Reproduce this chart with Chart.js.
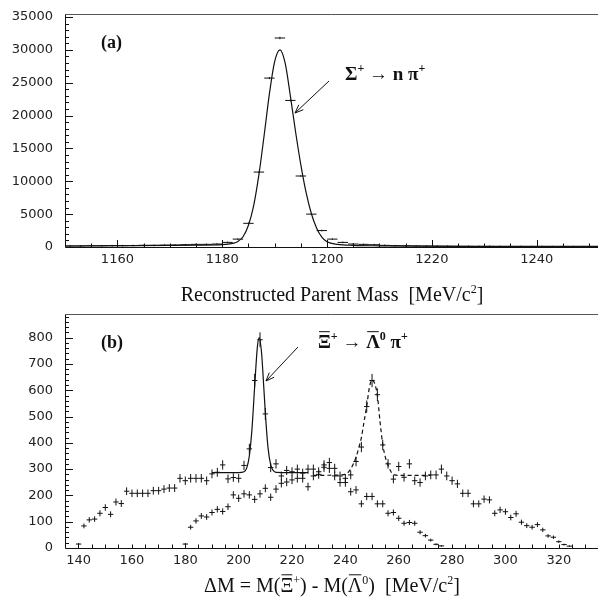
<!DOCTYPE html>
<html>
<head>
<meta charset="utf-8">
<script src="https://cdn.jsdelivr.net/npm/chart.js@4.4.0/dist/chart.umd.min.js"></script>
<style>
html, body { margin: 0; padding: 0; background: #fff; }
#wrapA { position: absolute; left: 0; top: 0; width: 598px; height: 305px; }
#wrapB { position: absolute; left: 0; top: 305px; width: 598px; height: 302px; }
</style>
</head>
<body>
<div id="wrapA"><canvas id="panelA"></canvas></div>
<div id="wrapB"><canvas id="panelB"></canvas></div>
<script>
// (a) reconstructed parent mass, 2 MeV bins
const massBins = [1151, 1153, 1155, 1157, 1159, 1161, 1163, 1165, 1167, 1169, 1171, 1173, 1175, 1177, 1179,
    1181, 1183, 1185, 1187, 1189, 1191, 1193, 1195, 1197, 1199, 1201, 1203, 1205, 1207, 1209,
    1211, 1213, 1215, 1217, 1219, 1221, 1223, 1225, 1227, 1229, 1231, 1233, 1235, 1237, 1239,
    1241, 1243, 1245, 1247, 1249];
const massCounts = [150, 150, 180, 180, 200, 200, 220, 250, 250, 280, 300, 350, 400, 400, 450,
    700, 1200, 3600, 11400, 25700, 31800, 22300, 10800, 5000, 2500, 1200, 700, 450, 400, 350,
    250, 200, 180, 150, 130, 120, 110, 100, 100, 90, 90, 80, 80, 80, 70,
    70, 60, 60, 60, 50];
// (a) fitted curve
const massFitX = [1150, 1160, 1170, 1175, 1180, 1182, 1183, 1184, 1185, 1186, 1187, 1188, 1189, 1190, 1191,
    1192, 1193, 1194, 1195, 1196, 1197, 1198, 1199, 1200, 1202, 1205, 1210, 1220, 1230, 1251.7];
const massFitY = [150, 200, 250, 280, 350, 550, 850, 1600, 3300, 6300, 11000, 17000, 23300, 28200, 30000,
    28000, 23000, 17500, 12500, 8300, 5100, 2900, 1500, 800, 400, 250, 180, 120, 100, 80];
const massTicksX = [1160, 1180, 1200, 1220, 1240];
const massTicksY = [0, 5000, 10000, 15000, 20000, 25000, 30000, 35000];

// (b) mass difference, first sample (solid fit)
const dmX1 = [140, 142, 144, 146, 148, 150, 152, 154, 156, 158, 160, 162, 164, 166, 168, 170, 172, 174, 176, 178,
    180, 182, 184, 186, 188, 190, 192, 194, 196, 198, 200, 202, 204, 206, 208, 210, 212, 214, 216, 218,
    220, 222, 224, 226, 228, 230, 232, 234, 236, 238, 240, 242, 244, 246, 248, 250, 252, 254, 256, 258,
    260, 262, 264, 266, 268, 270, 272, 274, 276];
const dmY1 = [15, 84, 107, 110, 132, 154, 128, 175, 169, 216, 208, 208, 208, 208, 218, 218, 224, 228, 228, 265,
    256, 265, 265, 265, 256, 282, 288, 316, 263, 268, 265, 314, 377, 637, 792, 510, 306, 320, 274, 295,
    290, 300, 285, 300, 300, 290, 316, 303, 274, 249, 249, 214, 221, 168, 196, 196, 168, 168, 132, 135,
    113, 94, 97, 94, 60, 47, 30, 14, 8];
// (b) second sample (dashed fit)
const dmX2 = [180, 182, 184, 186, 188, 190, 192, 194, 196, 198, 200, 202, 204, 206, 208, 210, 212, 214, 216, 218,
    220, 222, 224, 226, 228, 230, 232, 234, 236, 238, 240, 242, 244, 246, 248, 250, 252, 254, 256, 258,
    260, 262, 264, 266, 268, 270, 272, 274, 276, 278, 280, 282, 284, 286, 288, 290, 292, 294, 296, 298,
    300, 302, 304, 306, 308, 310, 312, 314, 316, 318, 320, 322, 324];
const dmY2 = [15, 79, 103, 122, 118, 135, 147, 139, 157, 202, 189, 206, 202, 185, 206, 227, 193, 224, 246, 251,
    259, 265, 265, 233, 274, 280, 307, 325, 303, 274, 265, 278, 329, 384, 538, 637, 583, 392, 320, 262,
    310, 269, 320, 256, 249, 274, 278, 278, 300, 274, 256, 244, 208, 208, 168, 168, 186, 183, 132, 145,
    138, 116, 130, 98, 85, 79, 89, 69, 46, 41, 24, 13, 7];
const fitX1 = [190, 196, 200, 202, 203, 204, 205, 206, 207, 207.7, 208.5, 209, 210, 211, 212, 213, 214, 220, 226];
const fitY1 = [287, 287, 287, 290, 304, 350, 454, 615, 763, 800, 752, 682, 513, 382, 317, 294, 288, 287, 287];
const fitX2 = [228, 236, 240, 242, 243, 244, 245, 246, 247, 248, 249, 250, 251, 252, 253, 254, 255, 256, 257, 258, 260, 272];
const fitY2 = [276, 277, 280, 300, 320, 345, 380, 420, 480, 540, 610, 640, 625, 580, 480, 395, 345, 315, 292, 280, 276, 276];
const dmTicksX = [140, 160, 180, 200, 220, 240, 260, 280, 300, 320];
const dmTicksY = [0, 100, 200, 300, 400, 500, 600, 700, 800];

const INK = '#111';
const SERIF = '"Liberation Serif", "DejaVu Serif", serif';

function pts(xs, ys) {
    return xs.map((x, i) => ({ x: x, y: ys[i] }));
}

// statistical error bar, in pixels, through the y scale
function errPx(ctx) {
    const s = ctx.chart.scales.y;
    const v = ctx.raw ? ctx.raw.y : 0;
    return Math.max(0.8, Math.abs(s.getPixelForValue(v) - s.getPixelForValue(v + Math.sqrt(v))));
}

function histSets(xs, ys, halfWidth) {
    const data = pts(xs, ys);
    return [
        { data: data, showLine: false, pointStyle: 'line', pointRadius: halfWidth, pointBorderColor: INK, pointBorderWidth: 1 },
        { data: data, showLine: false, pointStyle: 'line', pointRotation: 90, pointRadius: errPx, pointBorderColor: INK, pointBorderWidth: 1 }
    ];
}

function fitSet(xs, ys, dash) {
    return {
        data: pts(xs, ys), showLine: true, pointRadius: 0, borderColor: INK, borderWidth: 1.2,
        borderDash: dash, cubicInterpolationMode: 'monotone'
    };
}

// text with superscripts and overbars
function drawRich(ctx, parts, x, y, size, weight) {
    let cx = x;
    parts.forEach(p => {
        const fs = p.sup ? Math.round(size * 0.62) : size;
        ctx.font = weight + ' ' + fs + 'px ' + SERIF;
        const w = ctx.measureText(p.t).width;
        ctx.fillText(p.t, cx, p.sup ? y - size * 0.42 : y);
        if (p.bar) {
            ctx.beginPath();
            ctx.moveTo(cx + 1, y - size * 0.86);
            ctx.lineTo(cx + w - 1, y - size * 0.86);
            ctx.stroke();
        }
        cx += w;
    });
    return cx - x;
}

function richWidth(ctx, parts, size, weight) {
    let w = 0;
    parts.forEach(p => {
        ctx.font = weight + ' ' + (p.sup ? Math.round(size * 0.62) : size) + 'px ' + SERIF;
        w += ctx.measureText(p.t).width;
    });
    return w;
}

// frame with inward ticks, labels and arrows
const framePlugin = {
    id: 'frame',
    afterDatasetsDraw(chart, args, opts) {
        const ctx = chart.ctx;
        const a = chart.chartArea;
        const x = chart.scales.x;
        const y = chart.scales.y;
        ctx.save();
        ctx.strokeStyle = INK;
        ctx.fillStyle = INK;
        ctx.lineWidth = 1;
        ctx.beginPath();
        ctx.moveTo(a.left + 0.5, a.top);
        ctx.lineTo(a.left + 0.5, a.bottom + 0.5);
        ctx.lineTo(a.right, a.bottom + 0.5);
        ctx.stroke();
        ctx.strokeStyle = '#555';
        ctx.beginPath();
        ctx.moveTo(a.left, a.top + 0.5);
        ctx.lineTo(a.right, a.top + 0.5);
        ctx.stroke();
        ctx.strokeStyle = INK;

        ctx.beginPath();
        for (let i = 1; ; i++) {
            const v = x.min + i * opts.xMinor;
            if (v > x.max) break;
            const px = Math.round(x.getPixelForValue(v)) + 0.5;
            const major = Math.abs(Math.round(v / opts.xMajor) * opts.xMajor - v) < 1e-6;
            ctx.moveTo(px, a.bottom);
            ctx.lineTo(px, a.bottom - (major ? 7 : 3.5));
        }
        for (let i = 1; ; i++) {
            const v = i * opts.yMinor;
            if (v > y.max) break;
            const py = Math.round(y.getPixelForValue(v)) + 0.5;
            const major = Math.abs(Math.round(v / opts.yMajor) * opts.yMajor - v) < 1e-6;
            ctx.moveTo(a.left, py);
            ctx.lineTo(a.left + (major ? 8 : 4), py);
        }
        ctx.stroke();

        ctx.textBaseline = 'alphabetic';
        ctx.textAlign = 'left';
        opts.notes.forEach(n => drawRich(ctx, n.parts, n.x, n.y, n.size, n.weight));

        const t = opts.title;
        const tw = richWidth(ctx, t.parts, t.size, 'normal');
        drawRich(ctx, t.parts, t.cx - tw / 2, t.y, t.size, 'normal');

        opts.arrows.forEach(ar => {
            const ang = Math.atan2(ar.y2 - ar.y1, ar.x2 - ar.x1);
            const hl = 9;
            ctx.beginPath();
            ctx.moveTo(ar.x1, ar.y1);
            ctx.lineTo(ar.x2, ar.y2);
            ctx.moveTo(ar.x2 - hl * Math.cos(ang - 0.38), ar.y2 - hl * Math.sin(ang - 0.38));
            ctx.lineTo(ar.x2, ar.y2);
            ctx.lineTo(ar.x2 - hl * Math.cos(ang + 0.38), ar.y2 - hl * Math.sin(ang + 0.38));
            ctx.stroke();
        });
        ctx.restore();
    }
};

function tickFont() {
    return { family: '"DejaVu Sans", sans-serif', size: 13 };
}

function makeChart(id, cfg) {
    return new Chart(document.getElementById(id).getContext('2d'), {
        type: 'scatter',
        data: { datasets: cfg.datasets },
        options: {
            responsive: true,
            maintainAspectRatio: false,
            animation: false,
            events: [],
            layout: { autoPadding: false, padding: { top: cfg.top, left: 0, right: 0, bottom: 0 } },
            plugins: {
                legend: { display: false },
                tooltip: { enabled: false },
                frame: cfg.frame
            },
            scales: {
                x: {
                    type: 'linear', min: cfg.xMin, max: cfg.xMax,
                    grid: { display: false, drawTicks: false },
                    border: { display: false },
                    afterBuildTicks: s => { s.ticks = cfg.xTicks.map(v => ({ value: v })); },
                    ticks: { autoSkip: false, maxRotation: 0, padding: 5, color: '#222', font: tickFont(),
                        callback: v => String(v) },
                    afterFit: s => { s.height = cfg.xHeight; s.paddingLeft = 0; s.paddingRight = 0; }
                },
                y: {
                    type: 'linear', min: 0, max: cfg.yMax,
                    grid: { display: false, drawTicks: false },
                    border: { display: false },
                    afterBuildTicks: s => { s.ticks = cfg.yTicks.map(v => ({ value: v })); },
                    ticks: { autoSkip: false, padding: 12, color: '#222', font: tickFont(),
                        callback: v => String(v) },
                    afterFit: s => { s.width = 65; s.paddingTop = 0; s.paddingBottom = 0; }
                }
            }
        },
        plugins: [framePlugin]
    });
}

window.addEventListener('load', function () {
    makeChart('panelA', {
        datasets: [fitSet(massFitX, massFitY, [])].concat(histSets(massBins, massCounts, 5.2)),
        top: 14, xMin: 1150, xMax: 1251.7, xTicks: massTicksX, xHeight: 58, yMax: 35450, yTicks: massTicksY,
        frame: {
            xMinor: 5, xMajor: 20, yMinor: 1000, yMajor: 5000,
            notes: [
                { parts: [{ t: '(a)' }], x: 101, y: 48, size: 18, weight: 'bold' },
                { parts: [{ t: 'Σ' }, { t: '+', sup: true }, { t: ' → n π' }, { t: '+', sup: true }], x: 345, y: 80, size: 19, weight: 'bold' }
            ],
            title: { parts: [{ t: 'Reconstructed Parent Mass  [MeV/c' }, { t: '2', sup: true }, { t: ']' }], cx: 332, y: 301, size: 20 },
            arrows: [{ x1: 329, y1: 81, x2: 295, y2: 113 }]
        }
    });

    makeChart('panelB', {
        datasets: [fitSet(fitX1, fitY1, []), fitSet(fitX2, fitY2, [4, 3])]
            .concat(histSets(dmX1, dmY1, 2.7))
            .concat(histSets(dmX2, dmY2, 2.7)),
        top: 9, xMin: 134.9, xMax: 334.7, xTicks: dmTicksX, xHeight: 59, yMax: 890, yTicks: dmTicksY,
        frame: {
            xMinor: 5, xMajor: 20, yMinor: 20, yMajor: 100,
            notes: [
                { parts: [{ t: '(b)' }], x: 101, y: 43, size: 18, weight: 'bold' },
                { parts: [{ t: 'Ξ', bar: true }, { t: '+', sup: true }, { t: ' → ' }, { t: 'Λ', bar: true }, { t: '0', sup: true }, { t: ' π' }, { t: '+', sup: true }],
                    x: 318, y: 43, size: 19, weight: 'bold' }
            ],
            title: {
                parts: [{ t: 'ΔM = M(' }, { t: 'Ξ', bar: true }, { t: '+', sup: true }, { t: ') - M(' }, { t: 'Λ', bar: true },
                    { t: '0', sup: true }, { t: ')  [MeV/c' }, { t: '2', sup: true }, { t: ']' }],
                cx: 332, y: 287, size: 20
            },
            arrows: [{ x1: 298, y1: 42, x2: 266, y2: 76 }]
        }
    });
});
</script>
</body>
</html>
